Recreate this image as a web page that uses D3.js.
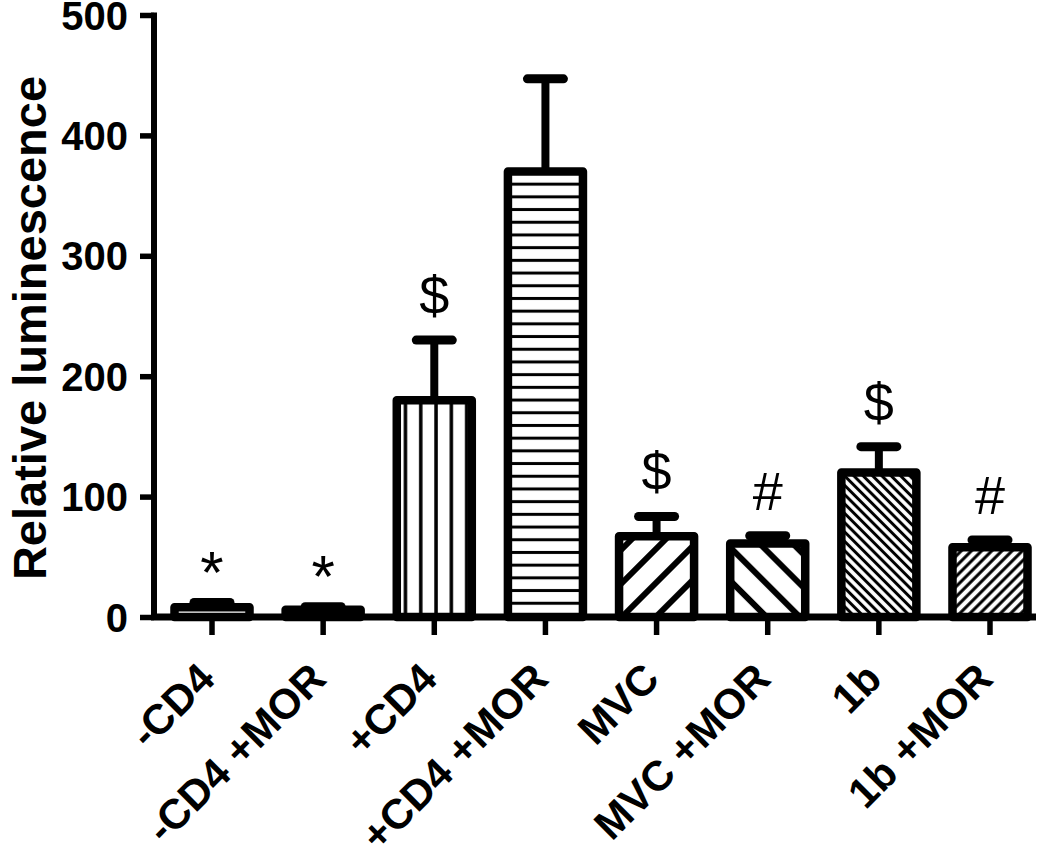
<!DOCTYPE html>
<html><head><meta charset="utf-8">
<script src="https://cdn.jsdelivr.net/npm/d3@7"></script>
<style>body{margin:0;background:#fff} svg{display:block;background:#fff}</style>
</head><body><svg id="chart" width="1050" height="854"></svg>
<script>
// ---- data ----
const categories = ["-CD4", "-CD4 +MOR", "+CD4", "+CD4 +MOR", "MVC", "MVC +MOR", "1b", "1b +MOR"];
const means      = [8, 6, 180, 370, 67, 61, 120, 58];
const errTops    = [12, 8.5, 230, 447, 83.5, 67.5, 141.5, 64];   // mean + error
const marks      = ["*", "*", "$", "", "$", "#", "$", "#"];
const yTicks     = [0, 100, 200, 300, 400, 500];
const yTitle     = "Relative luminescence";

// ---- drawing ----
const svg = d3.select("#chart");
const FONT = "'Liberation Sans', Arial, Helvetica, sans-serif";

const y = d3.scaleLinear().domain([0, 500]).range([617, 15]);
const x = d3.scaleBand().domain(categories).range([156.43, 1045.57])
  .paddingInner(0.325).paddingOuter(0.1625);

// patterns
const defs = svg.append("defs");
function linePattern(id, spacing, width, angle) {
  const p = defs.append("pattern").attr("id", id)
    .attr("patternUnits", "userSpaceOnUse")
    .attr("width", spacing).attr("height", spacing)
    .attr("patternTransform", `rotate(${angle})`);
  p.append("rect").attr("width", spacing).attr("height", spacing).attr("fill", "#fff");
  p.append("line").attr("x1", spacing / 2).attr("x2", spacing / 2)
    .attr("y1", -1).attr("y2", spacing + 1)
    .attr("stroke", "#000").attr("stroke-width", width);
}
linePattern("pVert", 15.3, 3.5, 0);
linePattern("pHoriz", 12.7, 3, 90);
linePattern("pDiagWide", 24, 6, 45);
linePattern("pDiagWideB", 23.5, 6, -45);
linePattern("pDenseB", 6.6, 3, -45);
linePattern("pDense", 7.2, 3, 45);
const fillFor = ["#fff", "#fff", "url(#pVert)", "url(#pHoriz)", "url(#pDiagWide)", "url(#pDiagWideB)", "url(#pDenseB)", "url(#pDense)"];

const rows = categories.map((c, i) => ({ c, i, m: means[i], e: errTops[i], s: marks[i] }));

// bars
svg.append("g").selectAll("rect").data(rows).join("rect")
  .attr("x", d => x(d.c)).attr("width", x.bandwidth())
  .attr("y", d => y(d.m)).attr("height", d => y(0) - y(d.m))
  .attr("fill", d => fillFor[d.i])
  .attr("stroke", "#000").attr("stroke-width", 8.5).attr("stroke-linejoin", "round");

// error bars
const eg = svg.append("g").attr("stroke", "#000");
eg.selectAll("line.stem").data(rows).join("line").attr("class", "stem")
  .attr("x1", d => x(d.c) + x.bandwidth() / 2).attr("x2", d => x(d.c) + x.bandwidth() / 2)
  .attr("y1", d => y(d.m)).attr("y2", d => y(d.e)).attr("stroke-width", 8);
eg.selectAll("line.cap").data(rows).join("line").attr("class", "cap")
  .attr("x1", d => x(d.c) + x.bandwidth() / 2 - 18).attr("x2", d => x(d.c) + x.bandwidth() / 2 + 18)
  .attr("y1", d => y(d.e)).attr("y2", d => y(d.e))
  .attr("stroke-width", 9).attr("stroke-linecap", "round");

// significance marks
svg.append("g").selectAll("text").data(rows.filter(d => d.s)).join("text")
  .attr("x", d => x(d.c) + x.bandwidth() / 2)
  .attr("y", d => y(d.e) - (d.s === "*" ? 10 : 26))
  .attr("text-anchor", "middle")
  .attr("font-family", FONT).attr("font-size", d => d.s === "*" ? 60 : 54)
  .text(d => d.s);

// y axis
const ya = svg.append("g").attr("transform", "translate(154,0)")
  .call(d3.axisLeft(y).tickValues(yTicks).tickSize(14).tickPadding(12).tickSizeOuter(0));
ya.select(".domain").remove();
ya.selectAll(".tick line").attr("stroke", "#000").attr("stroke-width", 5.5);
ya.selectAll(".tick text").attr("font-family", FONT).attr("font-size", 40)
  .attr("font-weight", "bold").attr("fill", "#000").attr("dy", "0.35em");
svg.append("line").attr("x1", 154).attr("x2", 154).attr("y1", y(500) - 2.5).attr("y2", y(0) + 3)
  .attr("stroke", "#000").attr("stroke-width", 6);

// x axis
const xa = svg.append("g").attr("transform", `translate(0,${y(0)})`)
  .call(d3.axisBottom(x).tickSize(18).tickSizeOuter(0));
xa.select(".domain").remove();
xa.selectAll(".tick line").attr("stroke", "#000").attr("stroke-width", 5.5);
xa.selectAll(".tick text")
  .attr("font-family", FONT).attr("font-size", 42).attr("font-weight", "bold").attr("fill", "#000")
  .attr("text-anchor", "end").attr("dy", 0).attr("y", 0)
  .attr("transform", "translate(5,64) rotate(-45)");
svg.append("line").attr("x1", 151).attr("x2", 1036).attr("y1", y(0)).attr("y2", y(0))
  .attr("stroke", "#000").attr("stroke-width", 7);

// y title
svg.append("text")
  .attr("transform", `translate(46,${(y(0) + y(500)) / 2 + 12}) rotate(-90)`)
  .attr("text-anchor", "middle")
  .attr("font-family", FONT).attr("font-size", 47).attr("font-weight", "bold")
  .text(yTitle);
</script>
</body></html>
